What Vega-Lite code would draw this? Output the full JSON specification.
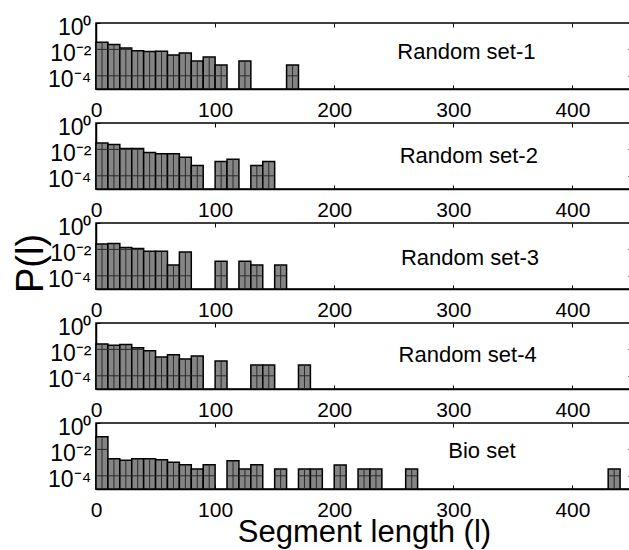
{
  "$schema": "https://vega.github.io/schema/vega-lite/v6.json",
  "background": "white",
  "padding": {"left": 11, "top": 15, "right": 5, "bottom": 5},
  "spacing": 34,
  "bounds": "flush",
  "config": {
    "font": "Liberation Sans",
    "view": {"stroke": "black", "strokeWidth": 1.5},
    "axis": {
      "domainColor": "black", "domainWidth": 1.5, "tickColor": "black", "tickWidth": 1,
      "labelColor": "black", "labelFont": "Liberation Sans", "labelFontSize": 21,
      "grid": false, "titleFont": "Liberation Sans", "titleColor": "black", "titleFontWeight": "normal",
      "labelOverlap": false, "labelFlush": false
    },
    "axisY": {"labelFontSize": 23}
  },
  "datasets": {
    "bars": [
      {"set": "Random set-1", "x": 0, "x2": 10, "p": 0.0347},
      {"set": "Random set-1", "x": 10, "x2": 20, "p": 0.024},
      {"set": "Random set-1", "x": 20, "x2": 30, "p": 0.0129},
      {"set": "Random set-1", "x": 30, "x2": 40, "p": 0.0079},
      {"set": "Random set-1", "x": 40, "x2": 50, "p": 0.0068},
      {"set": "Random set-1", "x": 50, "x2": 60, "p": 0.0071},
      {"set": "Random set-1", "x": 60, "x2": 70, "p": 0.0038},
      {"set": "Random set-1", "x": 70, "x2": 80, "p": 0.0054},
      {"set": "Random set-1", "x": 80, "x2": 90, "p": 0.0013},
      {"set": "Random set-1", "x": 90, "x2": 100, "p": 0.0026},
      {"set": "Random set-1", "x": 100, "x2": 110, "p": 0.00066},
      {"set": "Random set-1", "x": 120, "x2": 130, "p": 0.0013},
      {"set": "Random set-1", "x": 160, "x2": 170, "p": 0.00066},

      {"set": "Random set-2", "x": 0, "x2": 10, "p": 0.030},
      {"set": "Random set-2", "x": 10, "x2": 20, "p": 0.024},
      {"set": "Random set-2", "x": 20, "x2": 30, "p": 0.0117},
      {"set": "Random set-2", "x": 30, "x2": 40, "p": 0.0117},
      {"set": "Random set-2", "x": 40, "x2": 50, "p": 0.0059},
      {"set": "Random set-2", "x": 50, "x2": 60, "p": 0.0046},
      {"set": "Random set-2", "x": 60, "x2": 70, "p": 0.0046},
      {"set": "Random set-2", "x": 70, "x2": 80, "p": 0.0025},
      {"set": "Random set-2", "x": 80, "x2": 90, "p": 0.0006},
      {"set": "Random set-2", "x": 100, "x2": 110, "p": 0.0012},
      {"set": "Random set-2", "x": 110, "x2": 120, "p": 0.0018},
      {"set": "Random set-2", "x": 130, "x2": 140, "p": 0.0006},
      {"set": "Random set-2", "x": 140, "x2": 150, "p": 0.0012},

      {"set": "Random set-3", "x": 0, "x2": 10, "p": 0.026},
      {"set": "Random set-3", "x": 10, "x2": 20, "p": 0.028},
      {"set": "Random set-3", "x": 20, "x2": 30, "p": 0.014},
      {"set": "Random set-3", "x": 30, "x2": 40, "p": 0.0117},
      {"set": "Random set-3", "x": 40, "x2": 50, "p": 0.0074},
      {"set": "Random set-3", "x": 50, "x2": 60, "p": 0.0071},
      {"set": "Random set-3", "x": 60, "x2": 70, "p": 0.00066},
      {"set": "Random set-3", "x": 70, "x2": 80, "p": 0.0063},
      {"set": "Random set-3", "x": 100, "x2": 110, "p": 0.00126},
      {"set": "Random set-3", "x": 120, "x2": 130, "p": 0.00126},
      {"set": "Random set-3", "x": 130, "x2": 140, "p": 0.00066},
      {"set": "Random set-3", "x": 150, "x2": 160, "p": 0.00066},

      {"set": "Random set-4", "x": 0, "x2": 10, "p": 0.026},
      {"set": "Random set-4", "x": 10, "x2": 20, "p": 0.021},
      {"set": "Random set-4", "x": 20, "x2": 30, "p": 0.0234},
      {"set": "Random set-4", "x": 30, "x2": 40, "p": 0.0132},
      {"set": "Random set-4", "x": 40, "x2": 50, "p": 0.0078},
      {"set": "Random set-4", "x": 50, "x2": 60, "p": 0.0026},
      {"set": "Random set-4", "x": 60, "x2": 70, "p": 0.0039},
      {"set": "Random set-4", "x": 70, "x2": 80, "p": 0.0019},
      {"set": "Random set-4", "x": 80, "x2": 90, "p": 0.0032},
      {"set": "Random set-4", "x": 100, "x2": 110, "p": 0.0013},
      {"set": "Random set-4", "x": 130, "x2": 140, "p": 0.00065},
      {"set": "Random set-4", "x": 140, "x2": 150, "p": 0.00065},
      {"set": "Random set-4", "x": 170, "x2": 180, "p": 0.00065},

      {"set": "Bio set", "x": 0, "x2": 10, "p": 0.091},
      {"set": "Bio set", "x": 10, "x2": 20, "p": 0.0020},
      {"set": "Bio set", "x": 20, "x2": 30, "p": 0.0015},
      {"set": "Bio set", "x": 30, "x2": 40, "p": 0.0020},
      {"set": "Bio set", "x": 40, "x2": 50, "p": 0.0020},
      {"set": "Bio set", "x": 50, "x2": 60, "p": 0.00166},
      {"set": "Bio set", "x": 60, "x2": 70, "p": 0.00105},
      {"set": "Bio set", "x": 70, "x2": 80, "p": 0.00069},
      {"set": "Bio set", "x": 80, "x2": 90, "p": 0.00033},
      {"set": "Bio set", "x": 90, "x2": 100, "p": 0.00069},
      {"set": "Bio set", "x": 110, "x2": 120, "p": 0.0014},
      {"set": "Bio set", "x": 120, "x2": 130, "p": 0.00033},
      {"set": "Bio set", "x": 130, "x2": 140, "p": 0.00069},
      {"set": "Bio set", "x": 150, "x2": 160, "p": 0.00033},
      {"set": "Bio set", "x": 170, "x2": 180, "p": 0.00033},
      {"set": "Bio set", "x": 180, "x2": 190, "p": 0.00033},
      {"set": "Bio set", "x": 200, "x2": 210, "p": 0.00066},
      {"set": "Bio set", "x": 220, "x2": 230, "p": 0.00033},
      {"set": "Bio set", "x": 230, "x2": 240, "p": 0.00033},
      {"set": "Bio set", "x": 260, "x2": 270, "p": 0.00033},
      {"set": "Bio set", "x": 430, "x2": 440, "p": 0.00033}
    ],
    "labels": [
      {"set": "Random set-1", "lx": 311, "ly": 0.0069},
      {"set": "Random set-2", "lx": 313, "ly": 0.0032},
      {"set": "Random set-3", "lx": 314, "ly": 0.0022},
      {"set": "Random set-4", "lx": 312, "ly": 0.0038},
      {"set": "Bio set", "lx": 324, "ly": 0.0076}
    ]
  },
  "vconcat": [
    {
      "width": 536, "height": 66,
      "resolve": {"axis": {"x": "independent", "y": "independent"}},
      "layer": [
        {
          "data": {"name": "bars"},
          "transform": [{"filter": "datum.set == 'Random set-1'"}],
          "mark": {"type": "bar", "fill": "#858585", "stroke": "black", "strokeWidth": 1.5},
          "encoding": {
            "x": {"field": "x", "type": "quantitative", "scale": {"domain": [0, 450], "nice": false}, "axis": {"values": [0, 100, 200, 300, 400], "tickSize": -4, "labelPadding": 14, "title": null}},
            "x2": {"field": "x2"},
            "y": {"field": "p", "type": "quantitative", "scale": {"type": "log", "domain": [0.00001, 1], "nice": false}, "axis": {"values": [1, 0.01, 0.0001], "labelExpr": "datum.value == 1 ? '10⁰' : datum.value == 0.01 ? '10⁻²' : '10⁻⁴'", "tickSize": -4, "labelPadding": 9, "labelOffset": 4, "title": null}},
            "y2": {"datum": 0.00001}
          }
        },
        {
          "data": {"name": "bars"},
          "transform": [{"filter": "datum.set == 'Random set-1'"}],
          "mark": {"type": "rule", "color": "#2a2a2a", "strokeWidth": 1, "xOffset": 6},
          "encoding": {
            "x": {"field": "x", "type": "quantitative", "axis": {"orient": "top", "values": [0, 100, 200, 300, 400], "tickSize": -4, "labels": false, "domain": false, "title": null}},
            "y": {"field": "p", "type": "quantitative", "axis": {"orient": "right", "values": [1, 0.01, 0.0001], "tickSize": -4, "labels": false, "domain": false, "title": null}},
            "y2": {"datum": 0.00001}
          }
        },
        {
          "data": {"name": "bars"},
          "transform": [{"filter": "datum.set == 'Random set-1'"}],
          "mark": {"type": "rule", "color": "#2a2a2a", "strokeWidth": 1},
          "encoding": {"x": {"field": "x", "type": "quantitative", "axis": null}, "x2": {"field": "x2"}, "y": {"datum": 0.0001, "type": "quantitative", "axis": null}}
        },
        {
          "data": {"name": "bars"},
          "transform": [{"filter": "datum.set == 'Random set-1' && datum.p > 0.01"}],
          "mark": {"type": "rule", "color": "#2a2a2a", "strokeWidth": 1},
          "encoding": {"x": {"field": "x", "type": "quantitative", "axis": null}, "x2": {"field": "x2"}, "y": {"datum": 0.01, "type": "quantitative", "axis": null}}
        },
        {
          "data": {"name": "labels"},
          "transform": [{"filter": "datum.set == 'Random set-1'"}],
          "mark": {"type": "text", "font": "Liberation Sans", "fontSize": 22, "color": "black"},
          "encoding": {
            "x": {"field": "lx", "type": "quantitative", "axis": null},
            "y": {"field": "ly", "type": "quantitative", "axis": null},
            "text": {"field": "set"}
          }
        }
      ]
    },
    {
      "width": 536, "height": 66,
      "resolve": {"axis": {"x": "independent", "y": "independent"}},
      "layer": [
        {
          "data": {"name": "bars"},
          "transform": [{"filter": "datum.set == 'Random set-2'"}],
          "mark": {"type": "bar", "fill": "#858585", "stroke": "black", "strokeWidth": 1.5},
          "encoding": {
            "x": {"field": "x", "type": "quantitative", "scale": {"domain": [0, 450], "nice": false}, "axis": {"values": [0, 100, 200, 300, 400], "tickSize": -4, "labelPadding": 14, "title": null}},
            "x2": {"field": "x2"},
            "y": {"field": "p", "type": "quantitative", "scale": {"type": "log", "domain": [0.00001, 1], "nice": false}, "axis": {"values": [1, 0.01, 0.0001], "labelExpr": "datum.value == 1 ? '10⁰' : datum.value == 0.01 ? '10⁻²' : '10⁻⁴'", "tickSize": -4, "labelPadding": 9, "labelOffset": 4, "title": null}},
            "y2": {"datum": 0.00001}
          }
        },
        {
          "data": {"name": "bars"},
          "transform": [{"filter": "datum.set == 'Random set-2'"}],
          "mark": {"type": "rule", "color": "#2a2a2a", "strokeWidth": 1, "xOffset": 6},
          "encoding": {
            "x": {"field": "x", "type": "quantitative", "axis": {"orient": "top", "values": [0, 100, 200, 300, 400], "tickSize": -4, "labels": false, "domain": false, "title": null}},
            "y": {"field": "p", "type": "quantitative", "axis": {"orient": "right", "values": [1, 0.01, 0.0001], "tickSize": -4, "labels": false, "domain": false, "title": null}},
            "y2": {"datum": 0.00001}
          }
        },
        {
          "data": {"name": "bars"},
          "transform": [{"filter": "datum.set == 'Random set-2'"}],
          "mark": {"type": "rule", "color": "#2a2a2a", "strokeWidth": 1},
          "encoding": {"x": {"field": "x", "type": "quantitative", "axis": null}, "x2": {"field": "x2"}, "y": {"datum": 0.0001, "type": "quantitative", "axis": null}}
        },
        {
          "data": {"name": "bars"},
          "transform": [{"filter": "datum.set == 'Random set-2' && datum.p > 0.01"}],
          "mark": {"type": "rule", "color": "#2a2a2a", "strokeWidth": 1},
          "encoding": {"x": {"field": "x", "type": "quantitative", "axis": null}, "x2": {"field": "x2"}, "y": {"datum": 0.01, "type": "quantitative", "axis": null}}
        },
        {
          "data": {"name": "labels"},
          "transform": [{"filter": "datum.set == 'Random set-2'"}],
          "mark": {"type": "text", "font": "Liberation Sans", "fontSize": 22, "color": "black"},
          "encoding": {
            "x": {"field": "lx", "type": "quantitative", "axis": null},
            "y": {"field": "ly", "type": "quantitative", "axis": null},
            "text": {"field": "set"}
          }
        }
      ]
    },
    {
      "width": 536, "height": 66,
      "resolve": {"axis": {"x": "independent", "y": "independent"}},
      "layer": [
        {
          "data": {"name": "bars"},
          "transform": [{"filter": "datum.set == 'Random set-3'"}],
          "mark": {"type": "bar", "fill": "#858585", "stroke": "black", "strokeWidth": 1.5},
          "encoding": {
            "x": {"field": "x", "type": "quantitative", "scale": {"domain": [0, 450], "nice": false}, "axis": {"values": [0, 100, 200, 300, 400], "tickSize": -4, "labelPadding": 14, "title": null}},
            "x2": {"field": "x2"},
            "y": {"field": "p", "type": "quantitative", "scale": {"type": "log", "domain": [0.00001, 1], "nice": false}, "axis": {"values": [1, 0.01, 0.0001], "labelExpr": "datum.value == 1 ? '10⁰' : datum.value == 0.01 ? '10⁻²' : '10⁻⁴'", "tickSize": -4, "labelPadding": 9, "labelOffset": 4, "title": "P(l)", "titleFontSize": 38, "titlePadding": -3, "titleY": 40}},
            "y2": {"datum": 0.00001}
          }
        },
        {
          "data": {"name": "bars"},
          "transform": [{"filter": "datum.set == 'Random set-3'"}],
          "mark": {"type": "rule", "color": "#2a2a2a", "strokeWidth": 1, "xOffset": 6},
          "encoding": {
            "x": {"field": "x", "type": "quantitative", "axis": {"orient": "top", "values": [0, 100, 200, 300, 400], "tickSize": -4, "labels": false, "domain": false, "title": null}},
            "y": {"field": "p", "type": "quantitative", "axis": {"orient": "right", "values": [1, 0.01, 0.0001], "tickSize": -4, "labels": false, "domain": false, "title": null}},
            "y2": {"datum": 0.00001}
          }
        },
        {
          "data": {"name": "bars"},
          "transform": [{"filter": "datum.set == 'Random set-3'"}],
          "mark": {"type": "rule", "color": "#2a2a2a", "strokeWidth": 1},
          "encoding": {"x": {"field": "x", "type": "quantitative", "axis": null}, "x2": {"field": "x2"}, "y": {"datum": 0.0001, "type": "quantitative", "axis": null}}
        },
        {
          "data": {"name": "bars"},
          "transform": [{"filter": "datum.set == 'Random set-3' && datum.p > 0.01"}],
          "mark": {"type": "rule", "color": "#2a2a2a", "strokeWidth": 1},
          "encoding": {"x": {"field": "x", "type": "quantitative", "axis": null}, "x2": {"field": "x2"}, "y": {"datum": 0.01, "type": "quantitative", "axis": null}}
        },
        {
          "data": {"name": "labels"},
          "transform": [{"filter": "datum.set == 'Random set-3'"}],
          "mark": {"type": "text", "font": "Liberation Sans", "fontSize": 22, "color": "black"},
          "encoding": {
            "x": {"field": "lx", "type": "quantitative", "axis": null},
            "y": {"field": "ly", "type": "quantitative", "axis": null},
            "text": {"field": "set"}
          }
        }
      ]
    },
    {
      "width": 536, "height": 66,
      "resolve": {"axis": {"x": "independent", "y": "independent"}},
      "layer": [
        {
          "data": {"name": "bars"},
          "transform": [{"filter": "datum.set == 'Random set-4'"}],
          "mark": {"type": "bar", "fill": "#858585", "stroke": "black", "strokeWidth": 1.5},
          "encoding": {
            "x": {"field": "x", "type": "quantitative", "scale": {"domain": [0, 450], "nice": false}, "axis": {"values": [0, 100, 200, 300, 400], "tickSize": -4, "labelPadding": 14, "title": null}},
            "x2": {"field": "x2"},
            "y": {"field": "p", "type": "quantitative", "scale": {"type": "log", "domain": [0.00001, 1], "nice": false}, "axis": {"values": [1, 0.01, 0.0001], "labelExpr": "datum.value == 1 ? '10⁰' : datum.value == 0.01 ? '10⁻²' : '10⁻⁴'", "tickSize": -4, "labelPadding": 9, "labelOffset": 4, "title": null}},
            "y2": {"datum": 0.00001}
          }
        },
        {
          "data": {"name": "bars"},
          "transform": [{"filter": "datum.set == 'Random set-4'"}],
          "mark": {"type": "rule", "color": "#2a2a2a", "strokeWidth": 1, "xOffset": 6},
          "encoding": {
            "x": {"field": "x", "type": "quantitative", "axis": {"orient": "top", "values": [0, 100, 200, 300, 400], "tickSize": -4, "labels": false, "domain": false, "title": null}},
            "y": {"field": "p", "type": "quantitative", "axis": {"orient": "right", "values": [1, 0.01, 0.0001], "tickSize": -4, "labels": false, "domain": false, "title": null}},
            "y2": {"datum": 0.00001}
          }
        },
        {
          "data": {"name": "bars"},
          "transform": [{"filter": "datum.set == 'Random set-4'"}],
          "mark": {"type": "rule", "color": "#2a2a2a", "strokeWidth": 1},
          "encoding": {"x": {"field": "x", "type": "quantitative", "axis": null}, "x2": {"field": "x2"}, "y": {"datum": 0.0001, "type": "quantitative", "axis": null}}
        },
        {
          "data": {"name": "bars"},
          "transform": [{"filter": "datum.set == 'Random set-4' && datum.p > 0.01"}],
          "mark": {"type": "rule", "color": "#2a2a2a", "strokeWidth": 1},
          "encoding": {"x": {"field": "x", "type": "quantitative", "axis": null}, "x2": {"field": "x2"}, "y": {"datum": 0.01, "type": "quantitative", "axis": null}}
        },
        {
          "data": {"name": "labels"},
          "transform": [{"filter": "datum.set == 'Random set-4'"}],
          "mark": {"type": "text", "font": "Liberation Sans", "fontSize": 22, "color": "black"},
          "encoding": {
            "x": {"field": "lx", "type": "quantitative", "axis": null},
            "y": {"field": "ly", "type": "quantitative", "axis": null},
            "text": {"field": "set"}
          }
        }
      ]
    },
    {
      "width": 536, "height": 66,
      "resolve": {"axis": {"x": "independent", "y": "independent"}},
      "layer": [
        {
          "data": {"name": "bars"},
          "transform": [{"filter": "datum.set == 'Bio set'"}],
          "mark": {"type": "bar", "fill": "#858585", "stroke": "black", "strokeWidth": 1.5},
          "encoding": {
            "x": {"field": "x", "type": "quantitative", "scale": {"domain": [0, 450], "nice": false}, "axis": {"values": [0, 100, 200, 300, 400], "tickSize": -4, "labelPadding": 14, "title": "Segment length (l)", "titleFontSize": 31, "titlePadding": -3}},
            "x2": {"field": "x2"},
            "y": {"field": "p", "type": "quantitative", "scale": {"type": "log", "domain": [0.00001, 1], "nice": false}, "axis": {"values": [1, 0.01, 0.0001], "labelExpr": "datum.value == 1 ? '10⁰' : datum.value == 0.01 ? '10⁻²' : '10⁻⁴'", "tickSize": -4, "labelPadding": 9, "labelOffset": 4, "title": null}},
            "y2": {"datum": 0.00001}
          }
        },
        {
          "data": {"name": "bars"},
          "transform": [{"filter": "datum.set == 'Bio set'"}],
          "mark": {"type": "rule", "color": "#2a2a2a", "strokeWidth": 1, "xOffset": 6},
          "encoding": {
            "x": {"field": "x", "type": "quantitative", "axis": {"orient": "top", "values": [0, 100, 200, 300, 400], "tickSize": -4, "labels": false, "domain": false, "title": null}},
            "y": {"field": "p", "type": "quantitative", "axis": {"orient": "right", "values": [1, 0.01, 0.0001], "tickSize": -4, "labels": false, "domain": false, "title": null}},
            "y2": {"datum": 0.00001}
          }
        },
        {
          "data": {"name": "bars"},
          "transform": [{"filter": "datum.set == 'Bio set'"}],
          "mark": {"type": "rule", "color": "#2a2a2a", "strokeWidth": 1},
          "encoding": {"x": {"field": "x", "type": "quantitative", "axis": null}, "x2": {"field": "x2"}, "y": {"datum": 0.0001, "type": "quantitative", "axis": null}}
        },
        {
          "data": {"name": "bars"},
          "transform": [{"filter": "datum.set == 'Bio set' && datum.p > 0.01"}],
          "mark": {"type": "rule", "color": "#2a2a2a", "strokeWidth": 1},
          "encoding": {"x": {"field": "x", "type": "quantitative", "axis": null}, "x2": {"field": "x2"}, "y": {"datum": 0.01, "type": "quantitative", "axis": null}}
        },
        {
          "data": {"name": "labels"},
          "transform": [{"filter": "datum.set == 'Bio set'"}],
          "mark": {"type": "text", "font": "Liberation Sans", "fontSize": 22, "color": "black"},
          "encoding": {
            "x": {"field": "lx", "type": "quantitative", "axis": null},
            "y": {"field": "ly", "type": "quantitative", "axis": null},
            "text": {"field": "set"}
          }
        }
      ]
    }
  ]
}
